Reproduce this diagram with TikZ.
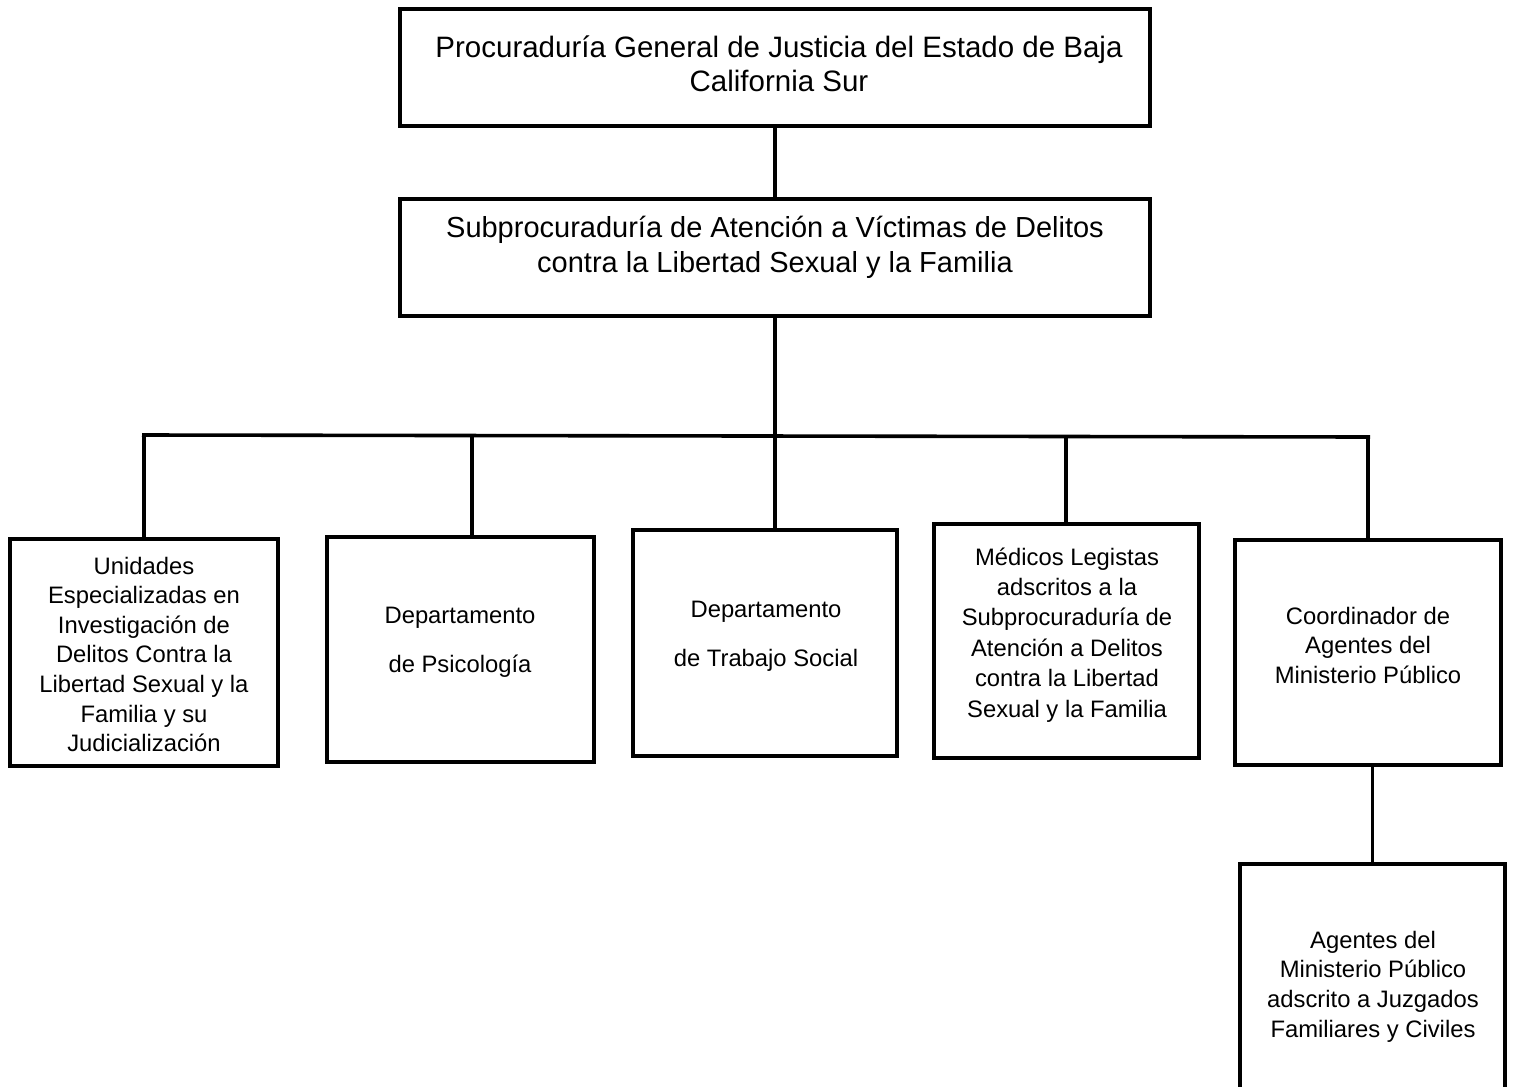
\documentclass[tikz,border=0pt]{standalone}
\usepackage{fontspec}
\setmainfont{Liberation Sans}
\newcommand{\lines}[1]{\begin{tabular}[t]{@{}c@{}}#1\end{tabular}}
\tikzset{
  box/.style={draw=black, line width=4pt, rectangle, inner sep=0pt, fill=white},
  link/.style={draw=black, line width=3.6pt},
  txt/.style={inner sep=0pt, anchor=base, text=black},
  bigtxt/.style={txt, font=\fontsize{29.5}{34}\selectfont},
  smalltxt/.style={txt, font=\fontsize{23.8}{29.6}\selectfont},
  widetxt/.style={txt, font=\fontsize{23.8}{49.8}\selectfont}
}
\begin{document}
\begin{tikzpicture}[x=1pt,y=-1pt]
\clip (0,0) rectangle (1513,1087);
\fill[white] (0,0) rectangle (1513,1087);

% boxes
\node[box, minimum width=750pt, minimum height=117pt] (pgj) at (775,67.5) {};
\node[box, minimum width=750pt, minimum height=117pt] (sub) at (775,257.5) {};
\node[box, minimum width=268pt, minimum height=227pt] (b1) at (144,652.5) {};
\node[box, minimum width=267pt, minimum height=225pt] (b2) at (460.5,649.5) {};
\node[box, minimum width=264pt, minimum height=226pt] (b3) at (765,643) {};
\node[box, minimum width=265pt, minimum height=234pt] (b4) at (1066.5,641) {};
\node[box, minimum width=266pt, minimum height=225pt] (b5) at (1368,652.5) {};
\node[box, minimum width=265pt, minimum height=254pt] (b6) at (1372.5,991) {};

% texts
\node[bigtxt] (tpgj) at (779,57) {\lines{Procuraduría General de Justicia del Estado de Baja\\California Sur}};
\node[bigtxt, font=\fontsize{29}{35.5}\selectfont] (tsub) at (775,237) {\lines{Subprocuraduría de Atención a Víctimas de Delitos\\contra la Libertad Sexual y la Familia}};
\node[smalltxt, font=\fontsize{23.8}{29.6}\selectfont] (t1) at (144,574) {\lines{Unidades\\Especializadas en\\Investigación de\\Delitos Contra la\\Libertad Sexual y la\\Familia y su\\Judicialización}};
\node[widetxt] (t2) at (460,623) {\lines{Departamento\\de Psicología}};
\node[widetxt] (t3) at (766,617) {\lines{Departamento\\de Trabajo Social}};
\node[smalltxt, font=\fontsize{23.8}{30.4}\selectfont] (t4) at (1067,565) {\lines{Médicos Legistas\\adscritos a la\\Subprocuraduría de\\Atención a Delitos\\contra la Libertad\\Sexual y la Familia}};
\node[smalltxt] (t5) at (1368,624) {\lines{Coordinador de\\Agentes del\\Ministerio Público}};
\node[smalltxt, font=\fontsize{23.8}{29.7}\selectfont] (t6) at (1373,948) {\lines{Agentes del\\Ministerio Público\\adscrito a Juzgados\\Familiares y Civiles}};

% connectors
\coordinate (busL) at (142,435);
\coordinate (busR) at (1370,437);
\coordinate (v1) at (144,435);
\coordinate (v2) at (472,435.5);
\coordinate (v4) at (1066,436.5);
\coordinate (v5) at (1368,437);

\draw[link] (pgj.south) -- (sub.north);
\draw[link] (sub.south) -- (sub.south |- b3.north);
\draw[link] (busL) -- (busR);
\draw[link] (v1) -- (b1.north);
\draw[link] (v2) -- (v2 |- b2.north);
\draw[link] (v4) -- (v4 |- b4.north);
\draw[link] (v5) -- (b5.north);
\draw[link] (b6.north) -- (b6.north |- b5.south);
\end{tikzpicture}
\end{document}
